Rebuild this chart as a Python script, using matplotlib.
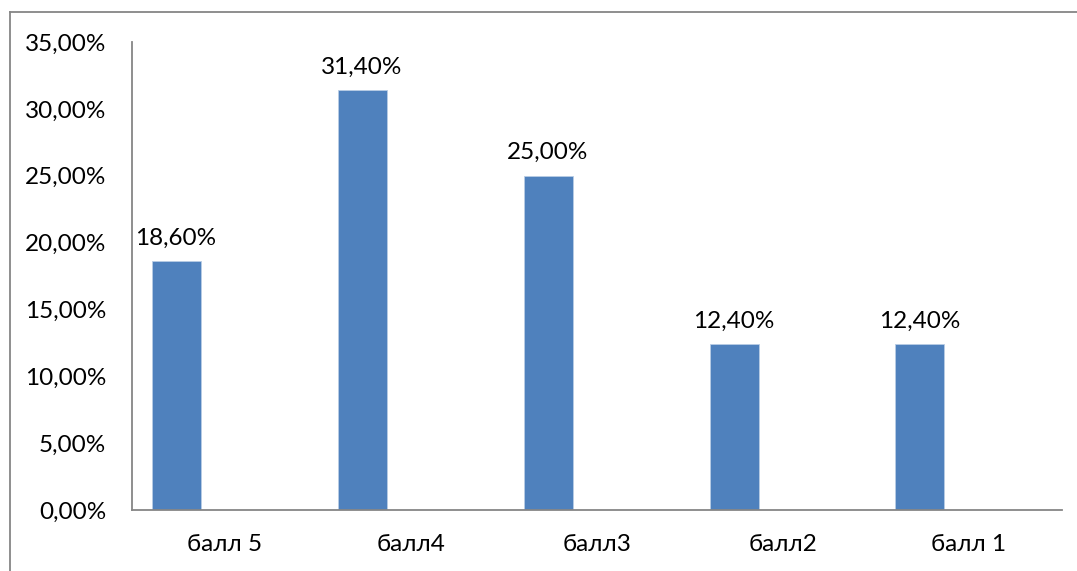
import numpy as np
import matplotlib
matplotlib.use("Agg")
import matplotlib.pyplot as plt
from matplotlib.lines import Line2D

# оценки и доля учащихся, %
categories = ["балл 5", "балл4", "балл3", "балл2", "балл 1"]
shares = [18.6, 31.4, 25.0, 12.4, 12.4]
yticks = [0, 5, 10, 15, 20, 25, 30, 35]

W, H = 1077, 571
plt.rcParams['font.family'] = ['Lato', 'DejaVu Sans']

fig = plt.figure(figsize=(W / 100, H / 100), dpi=100)
ax = fig.add_axes([132 / W, (H - 510) / H, 930 / W, 468 / H])

axis_grey = "#868686"
bar_blue = "#4F81BD"
fs = 17.5

x = np.arange(len(categories))
bw = 49 / 186
bars = ax.bar(x - bw, shares, width=bw, color=bar_blue, edgecolor="#B9CDE5", linewidth=0.6)

for rect, v in zip(bars, shares):
    ax.annotate(f"{v:.2f}%".replace(".", ","),
                (rect.get_x() + rect.get_width() / 2, v),
                xytext=(0, 9), textcoords="offset points",
                ha="center", va="bottom", fontsize=fs, color="black")

ax.set_xlim(-0.5, len(categories) - 0.5)
ax.set_ylim(0, 35)
ax.set_yticks(yticks)
ax.set_yticklabels([f"{t:.2f}%".replace(".", ",") for t in yticks])
ax.set_xticks(x)
ax.set_xticklabels(categories)
ax.tick_params(axis="y", length=0, pad=18.5, labelsize=fs)
ax.tick_params(axis="x", length=0, pad=17.5, labelsize=fs)

for side in ("top", "right"):
    ax.spines[side].set_visible(False)
for side in ("left", "bottom"):
    ax.spines[side].set_color(axis_grey)
    ax.spines[side].set_linewidth(1.3)

# рамка вокруг области диаграммы
fig.add_artist(Line2D([10 / W, 10 / W], [0, 1 - 12 / H], transform=fig.transFigure,
                      color=axis_grey, linewidth=1.3))
fig.add_artist(Line2D([10 / W, 1], [1 - 12 / H, 1 - 12 / H], transform=fig.transFigure,
                      color=axis_grey, linewidth=1.3))

fig.savefig("out.png", dpi=100)
